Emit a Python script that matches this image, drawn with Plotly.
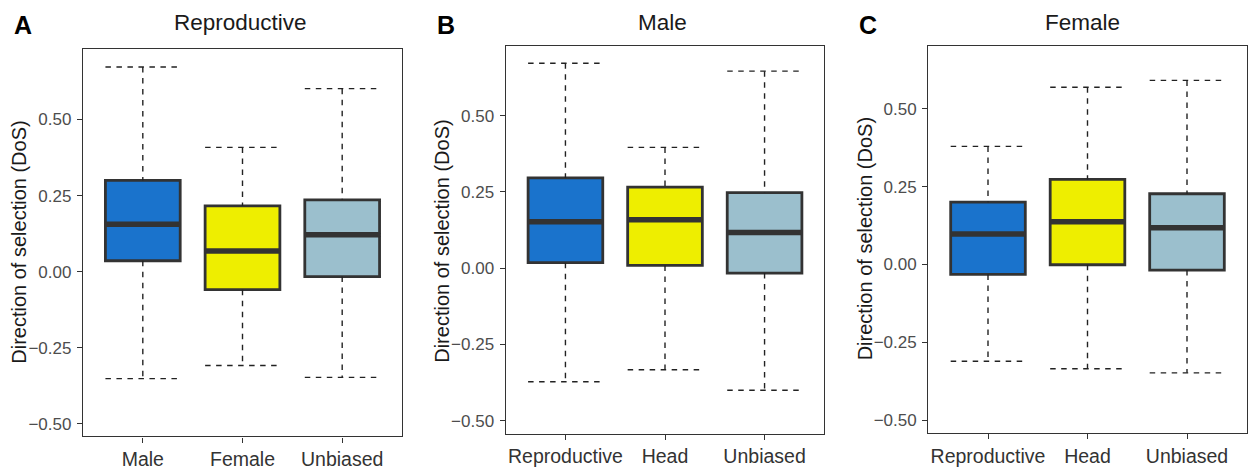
import plotly.graph_objects as go

# ---- data: Direction of selection (DoS) summaries per gene class ----
panel_letters = ["A", "B", "C"]
panel_titles = ["Reproductive", "Male", "Female"]

cats_A = ["Male", "Female", "Unbiased"]
cats_B = ["Reproductive", "Head", "Unbiased"]
cats_C = ["Reproductive", "Head", "Unbiased"]

lower_A = [-0.351, -0.308, -0.347]
q1_A = [0.036, -0.059, -0.016]
median_A = [0.156, 0.068, 0.121]
q3_A = [0.300, 0.216, 0.236]
upper_A = [0.672, 0.408, 0.601]

lower_B = [-0.372, -0.333, -0.400]
q1_B = [0.018, 0.009, -0.016]
median_B = [0.152, 0.159, 0.117]
q3_B = [0.296, 0.266, 0.248]
upper_B = [0.672, 0.396, 0.646]

lower_C = [-0.311, -0.335, -0.348]
q1_C = [-0.032, -0.001, -0.018]
median_C = [0.098, 0.137, 0.118]
q3_C = [0.200, 0.273, 0.227]
upper_C = [0.379, 0.569, 0.591]

y_ticks = [-0.50, -0.25, 0.00, 0.25, 0.50]
y_ticktext = ["\u22120.50", "\u22120.25", "0.00", "0.25", "0.50"]

fill_colors = ["#1A73CC", "#EEEE00", "#9BBFCD"]

# ---- layout geometry (pixels) ----
W, H = 1248, 470
plot_px = [(83, 402, 50, 445), (505.7, 824.3, 46.7, 442), (928.3, 1246.7, 46.7, 441.7)]
y_ranges = [(-0.541, 0.731), (-0.542, 0.729), (-0.542, 0.702)]
letter_pos = [(12, 25), (435, 25), (857, 25)]
title_pos = [(240, 23), (662, 23), (1082, 23)]
ytitle_pos = [(19, 247.5), (442.5, 246), (865, 244)]

panels = [
    (cats_A, lower_A, q1_A, median_A, q3_A, upper_A),
    (cats_B, lower_B, q1_B, median_B, q3_B, upper_B),
    (cats_C, lower_C, q1_C, median_C, q3_C, upper_C),
]

FONT = "Liberation Sans, Arial, sans-serif"
EDGE = "#333333"
BOX_W = 0.75

fig = go.Figure()
annotations = []

for p, (cats, lo, q1, med, q3, up) in enumerate(panels):
    xa = "x" if p == 0 else f"x{p + 1}"
    ya = "y" if p == 0 else f"y{p + 1}"
    xs = [1, 2, 3]
    for i, x in enumerate(xs):
        # box body (whiskers drawn separately as dashed lines)
        fig.add_trace(go.Box(
            x=[x], q1=[q1[i]], median=[med[i]], q3=[q3[i]],
            lowerfence=[q1[i]], upperfence=[q3[i]],
            width=BOX_W, fillcolor=fill_colors[i],
            line=dict(color=EDGE, width=2.8),
            boxpoints=False, showlegend=False, hoverinfo="skip",
            xaxis=xa, yaxis=ya,
        ))
        half = BOX_W / 2
        # dashed whiskers with end caps
        fig.add_trace(go.Scatter(
            x=[x - half, x + half, None, x, x, None, x, x, None, x - half, x + half],
            y=[up[i], up[i], None, up[i], q3[i], None, q1[i], lo[i], None, lo[i], lo[i]],
            mode="lines", line=dict(color="#222222", width=1.4, dash="5.5px,5.5px"),
            showlegend=False, hoverinfo="skip", xaxis=xa, yaxis=ya,
        ))
        # thick median bar
        fig.add_trace(go.Scatter(
            x=[x - half, x + half], y=[med[i], med[i]],
            mode="lines", line=dict(color=EDGE, width=5.5),
            showlegend=False, hoverinfo="skip", xaxis=xa, yaxis=ya,
        ))

    x0, x1, yt, yb = plot_px[p]
    xdom = [x0 / W, x1 / W]
    ydom = [1 - yb / H, 1 - yt / H]
    axis_common = dict(
        showline=True, mirror=True, linecolor=EDGE, linewidth=1.4,
        showgrid=False, zeroline=False, ticks="outside", ticklen=5,
        tickcolor=EDGE, tickwidth=1.2,
    )
    fig.layout[xa.replace("x", "xaxis")] = dict(
        domain=xdom, range=[0.4, 3.6], tickvals=xs, ticktext=cats,
        tickfont=dict(family=FONT, size=19.5, color="#333333"),
        anchor=ya, **axis_common,
    )
    fig.layout[ya.replace("y", "yaxis")] = dict(
        domain=ydom, range=list(y_ranges[p]), tickvals=y_ticks, ticktext=y_ticktext,
        tickfont=dict(family=FONT, size=17, color="#4D4D4D"),
        anchor=xa, ticklabelstandoff=2, **axis_common,
    )

    lx, ly = letter_pos[p]
    annotations.append(dict(
        text=f"<b>{panel_letters[p]}</b>", x=lx / W, y=1 - ly / H,
        xref="paper", yref="paper", xanchor="left", yanchor="middle",
        showarrow=False, font=dict(family=FONT, size=25, color="#000000"),
    ))
    tx, ty = title_pos[p]
    annotations.append(dict(
        text=panel_titles[p], x=tx / W, y=1 - ty / H,
        xref="paper", yref="paper", xanchor="center", yanchor="middle",
        showarrow=False, font=dict(family=FONT, size=22.5, color="#1A1A1A"),
    ))
    ax_, ay_ = ytitle_pos[p]
    annotations.append(dict(
        text="Direction of selection (DoS)", x=ax_ / W, y=1 - ay_ / H,
        xref="paper", yref="paper", xanchor="center", yanchor="middle",
        textangle=-90, showarrow=False,
        font=dict(family=FONT, size=20, color="#1A1A1A"),
    ))

fig.update_layout(
    width=W, height=H,
    margin=dict(l=0, r=0, t=0, b=0),
    paper_bgcolor="white", plot_bgcolor="white",
    annotations=annotations,
    showlegend=False,
)

fig.write_html("out.html")
